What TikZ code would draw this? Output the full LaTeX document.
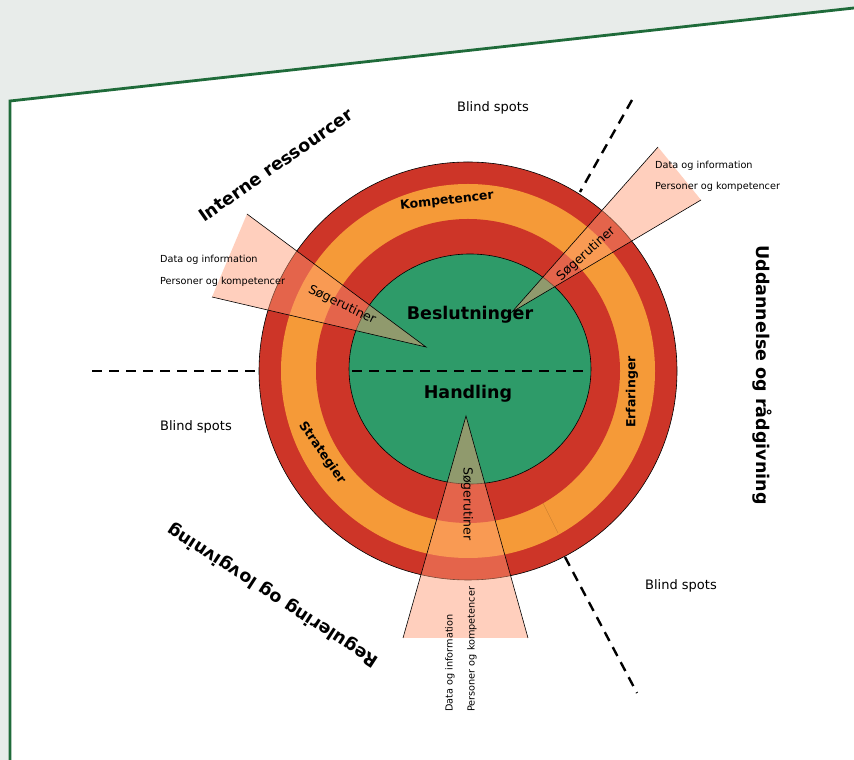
\documentclass[tikz,border=0pt]{standalone}
\usepackage{fontspec}
\setmainfont{DejaVu Sans}
\usepackage{xcolor}
\usepackage{tikz}
\usetikzlibrary{positioning}

\definecolor{pagegray}{HTML}{E8ECEA}
\definecolor{framegreen}{HTML}{1F6B3A}
\definecolor{ringred}{HTML}{CD3528}
\definecolor{ringorange}{HTML}{F59A38}
\definecolor{coregreen}{HTML}{2E9B69}
\definecolor{beamsalmon}{RGB}{255,154,115}

\begin{document}
\begin{tikzpicture}[x=1pt, y=1pt, every node/.style={inner sep=0pt}]
  % Styles
  \tikzstyle{beam}=[fill=beamsalmon, fill opacity=0.47]
  \tikzstyle{edge}=[draw=black, line width=0.6pt]
  \tikzstyle{divider}=[draw=black, line width=2.4pt, dash pattern=on 10pt off 7pt]
  \tikzstyle{source}=[font=\fontsize{9.7}{11}\selectfont, anchor=west]
  \tikzstyle{ringlabel}=[font=\bfseries\fontsize{12.5}{14}\selectfont]
  \tikzstyle{corelabel}=[font=\bfseries\fontsize{17.5}{20}\selectfont]
  \tikzstyle{domainlabel}=[font=\bfseries\fontsize{17.5}{20}\selectfont]
  \tikzstyle{blind}=[font=\fontsize{13}{15}\selectfont]
  \tikzstyle{search}=[font=\fontsize{12.5}{15}\selectfont]

  \useasboundingbox (0,0) rectangle (854,760);

  % Page
  \fill[pagegray] (0,0) rectangle (854,760);
  \fill[white] (10,0) -- (10,659) -- (854,752) -- (854,0) -- cycle;
  \draw[framegreen, line width=2.8pt] (10,0) -- (10,659) -- (854,752);

  % Rings
  \coordinate (c) at (468,389);
  \fill[ringred] (c) circle (209);
  \fill[ringorange] (c) circle (187);
  \fill[ringred] (c) circle (152);
  \draw[line width=0.6pt] (c) circle (209);
  \filldraw[fill=coregreen, line width=0.6pt] (470,391) ellipse (121 and 115);
  \draw[ringorange!80!black, line width=0.4pt] (543,257) -- (558,227);

  % Dividers
  \coordinate (dl1) at (92,389);
  \coordinate (dl2) at (258,389);
  \coordinate (dc1) at (352,389);
  \coordinate (dc2) at (586,389);
  \coordinate (du1) at (632,660);
  \coordinate (du2) at (580,568);
  \coordinate (dd1) at (565,203);
  \coordinate (dd2) at (637,67);
  \draw[divider] (dl1) -- (dl2);
  \draw[divider] (dc1) -- (dc2);
  \draw[divider] (du1) -- (du2);
  \draw[divider] (dd1) -- (dd2);

  % Beams
  \coordinate (b1a) at (426,413);
  \coordinate (b1u) at (247,546);
  \coordinate (b1l) at (212,463);
  \coordinate (b2a) at (512,448);
  \coordinate (b2u) at (658,613);
  \coordinate (b2l) at (701,560);
  \coordinate (b3a) at (466,344);
  \coordinate (b3l) at (403,122);
  \coordinate (b3r) at (528,122);
  \fill[beam] (b1a) -- (b1u) -- (b1l) -- cycle;
  \fill[beam] (b2a) -- (b2u) -- (b2l) -- cycle;
  \fill[beam] (b3a) -- (b3l) -- (b3r) -- cycle;
  \draw[edge] (b1u) -- (b1a) -- (b1l);
  \draw[edge] (b2u) -- (b2a) -- (b2l);
  \draw[edge] (b3l) -- (b3a) -- (b3r);

  % Core and rings
  \node[corelabel] (beslut) at (470,445) {Beslutninger};
  \node[corelabel] (handling) at (468,366) {Handling};
  \node[ringlabel, rotate=6] (komp) at (447,559) {Kompetencer};
  \node[ringlabel, rotate=90] (erfar) at (632,368) {Erfaringer};
  \node[ringlabel, rotate=-55] (strat) at (322,307) {Strategier};

  % Search routines
  \node[search, rotate=-26] (sog1) at (342,455) {Søgerutiner};
  \node[search, rotate=42] (sog2) at (586,506) {Søgerutiner};
  \node[search, rotate=-90] (sog3) at (467,256) {Søgerutiner};
  \node[source] (data1) at (160,500) {Data og information};
  \node[source] (pers1) at (160,478) {Personer og kompetencer};
  \node[source] (data2) at (655,594) {Data og information};
  \node[source] (pers2) at (655,573) {Personer og kompetencer};
  \node[source, rotate=90] (data3) at (450,48) {Data og information};
  \node[source, rotate=90] (pers3) at (472,48) {Personer og kompetencer};

  % Blind spots
  \node[blind] (blind1) at (493,652) {Blind spots};
  \node[blind] (blind2) at (196,333) {Blind spots};
  \node[blind] (blind3) at (681,174) {Blind spots};

  % Domains
  \node[domainlabel, rotate=35] (interne) at (276,595) {Interne ressourcer};
  \node[domainlabel, rotate=-90] (uddan) at (762,385) {Uddannelse og rådgivning};
  \node[domainlabel, rotate=147] (regul) at (273,165) {Regulering og lovgivning};
\end{tikzpicture}
\end{document}
